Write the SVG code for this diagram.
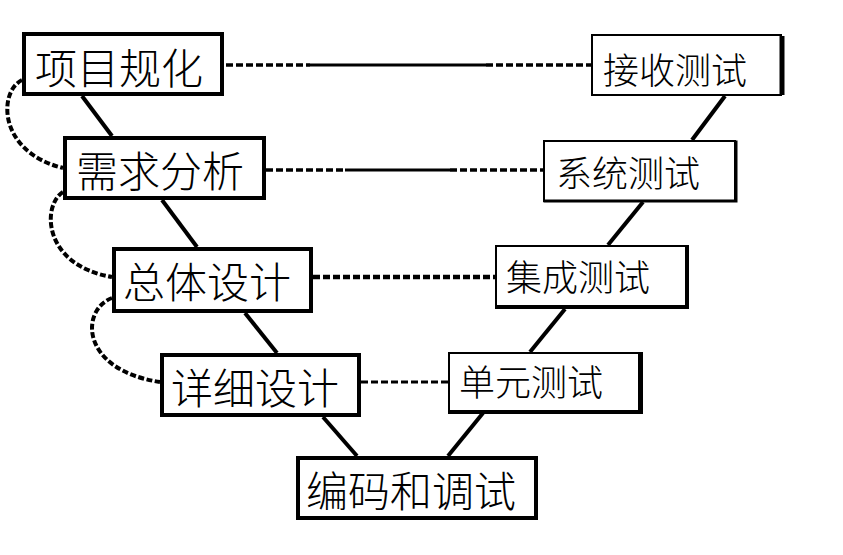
<svg xmlns="http://www.w3.org/2000/svg" width="843" height="555" viewBox="0 0 843 555">
<style>
.bg{fill:#fff}
.lbox{fill:#fff;stroke:#000;stroke-width:4}
.rbox{fill:#fff;stroke:#000;stroke-width:2}
.shadow{fill:none;stroke:#000;stroke-width:4;stroke-linecap:square}
.t{font-family:"Noto Sans CJK SC","Noto Sans CJK JP",sans-serif;font-weight:300;fill:#000;dominant-baseline:central}
.tl{font-size:42px}
.tr{font-size:36px}
.solid{stroke:#000;stroke-width:4;fill:none}
.dash{stroke:#000;stroke-width:3.5;fill:none;stroke-dasharray:7 3}
.curve{stroke:#000;stroke-width:4;fill:none;stroke-dasharray:6 2.5}
</style>
<rect class="bg" x="0" y="0" width="843" height="555"/>
<g id="connectors">
  <line class="solid" x1="82" y1="96" x2="112" y2="136"/>
  <line class="solid" x1="162" y1="200" x2="197" y2="247"/>
  <line class="solid" x1="245" y1="313" x2="277" y2="353"/>
  <line class="solid" x1="323" y1="417" x2="357" y2="456"/>
  <line class="solid" x1="448" y1="456" x2="483" y2="413"/>
  <line class="solid" x1="530" y1="352" x2="565" y2="309"/>
  <line class="solid" x1="608" y1="245" x2="643" y2="202"/>
  <line class="solid" x1="692" y1="140" x2="725" y2="96"/>
  <line class="dash" x1="226" y1="65" x2="310" y2="65"/>
  <line class="solid" x1="310" y1="65" x2="486" y2="65" style="stroke-width:3"/>
  <line class="dash" x1="486" y1="65" x2="591" y2="65"/>
  <line class="dash" x1="266" y1="170" x2="345" y2="170"/>
  <line class="solid" x1="345" y1="170" x2="450" y2="170" style="stroke-width:3"/>
  <line class="dash" x1="450" y1="170" x2="543" y2="170"/>
  <line class="dash" x1="313" y1="277" x2="495" y2="277" style="stroke-width:4.5"/>
  <line class="dash" x1="361" y1="382" x2="448" y2="382" style="stroke-width:3"/>
  <path class="curve" d="M 22 80 C -2 92, -2 152, 63 168"/>
  <path class="curve" d="M 63 192 C 42 205, 42 265, 112 277"/>
  <path class="curve" d="M 112 298 C 80 310, 80 370, 160 382"/>
</g>
<g id="n1"><rect class="lbox" x="24" y="34" width="198" height="60"/><text class="t tl" x="35" y="65">项目规化</text></g>
<g id="n2"><rect class="lbox" x="65" y="138" width="199" height="60"/><text class="t tl" x="76" y="168">需求分析</text></g>
<g id="n3"><rect class="lbox" x="114" y="249" width="197" height="62"/><text class="t tl" x="123" y="279">总体设计</text></g>
<g id="n4"><rect class="lbox" x="162" y="355" width="197" height="60"/><text class="t tl" x="171" y="385">详细设计</text></g>
<g id="n5"><rect class="lbox" x="298" y="458" width="238" height="60"/><text class="t tl" x="306" y="488">编码和调试</text></g>
<g id="n6"><rect class="rbox" x="592" y="35" width="189" height="60"/><path class="shadow" d="M 782 36 V 95" style="stroke-width:5;stroke-linecap:butt"/><text class="t tr" x="603" y="68">接收测试</text></g>
<g id="n7"><rect class="rbox" x="544" y="141" width="191" height="60"/><path class="shadow" d="M 736 142 V 201 H 545" style="stroke-width:3"/><text class="t tr" x="556" y="171">系统测试</text></g>
<g id="n8"><rect class="rbox" x="496" y="246" width="190" height="60"/><path class="shadow" d="M 687 247 V 307 H 497"/><text class="t tr" x="506" y="275">集成测试</text></g>
<g id="n9"><rect class="rbox" x="449" y="353" width="190" height="58"/><path class="shadow" d="M 641 354 V 412 H 450"/><text class="t tr" x="459" y="380">单元测试</text></g>
</svg>
